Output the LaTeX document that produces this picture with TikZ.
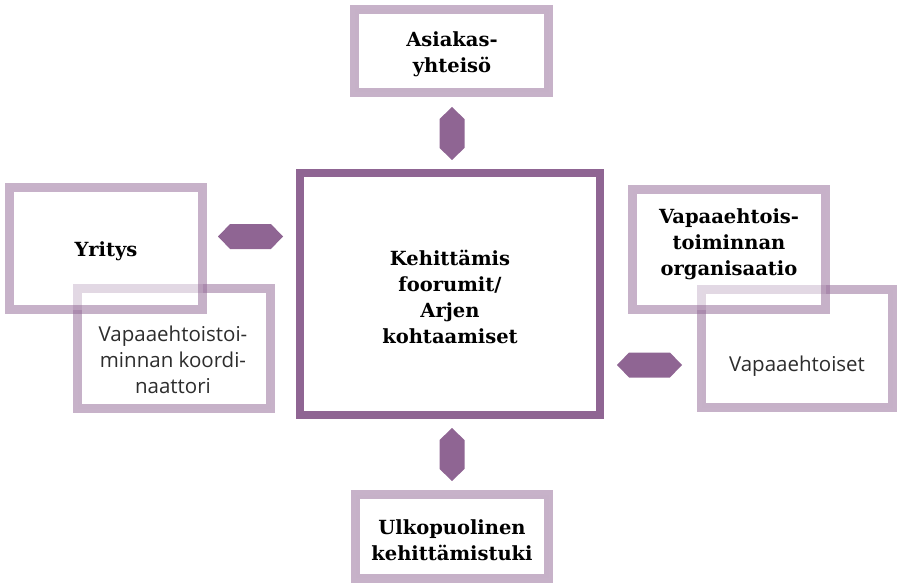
\documentclass[tikz,border=0pt]{standalone}
\usepackage{fontspec}
\setmainfont{DejaVu Serif}
\setsansfont{Open Sans}
\usetikzlibrary{shapes.symbols}
\definecolor{darkp}{RGB}{143,101,147}
\definecolor{txtgray}{RGB}{45,45,45}
\tikzset{
  lightbox/.style={draw=darkp, draw opacity=0.5, line width=9pt, fill=white, inner sep=0pt},
  overbox/.style={lightbox, fill opacity=0.5},
  centerbox/.style={draw=darkp, line width=8pt, fill=white, inner sep=0pt},
  boldtxt/.style={font=\fontsize{19.5}{26}\selectfont\bfseries, align=center, text=black, inner sep=0pt},
  sanstxt/.style={font=\sffamily\fontsize{20.5}{26}\selectfont, align=center, text=txtgray, inner sep=0pt},
  harrow/.style={shape=signal, signal to=east and west, signal pointer angle=92, fill=darkp, inner sep=0pt, minimum width=65pt, minimum height=25pt},
  varrow/.style={shape=signal, signal to=east and west, signal pointer angle=92, fill=darkp, inner sep=0pt, minimum width=53pt, minimum height=25pt, rotate=90}
}
\begin{document}
\begin{tikzpicture}[x=1pt,y=-1pt]
\useasboundingbox (0,0) rectangle (900,583);
% boxes
\node[centerbox, minimum width=300pt, minimum height=242pt] (center) at (450,294) {};
\node[lightbox, minimum width=194pt, minimum height=83pt] (top) at (451.5,51) {};
\node[lightbox, minimum width=193pt, minimum height=83.5pt] (bottom) at (452,536.25) {};
\node[lightbox, minimum width=193pt, minimum height=120pt] (koord) at (174,348.5) {};
\node[overbox, minimum width=193pt, minimum height=122pt] (yritys) at (106,248.5) {};
\node[lightbox, minimum width=191pt, minimum height=118pt] (vapaa) at (797,348.5) {};
\node[overbox, minimum width=193pt, minimum height=120pt] (org) at (729,249.5) {};
% texts
\node[boldtxt] (tcenter) at (450,297) {Kehittämis\\foorumit/\\Arjen\\kohtaamiset};
\node[boldtxt] (ttop) at (452,54) {Asiakas-\\yhteisö};
\node[boldtxt] (tbottom) at (452,540) {Ulkopuolinen\\kehittämistuki};
\node[boldtxt] (tyritys) at (106,251) {Yritys};
\node[boldtxt] (torg) at (729,244) {Vapaaehtois-\\toiminnan\\organisaatio};
\node[sanstxt] (tkoord) at (173,360) {Vapaaehtoistoi-\\minnan koordi-\\naattori};
\node[sanstxt] (tvapaa) at (797,366) {Vapaaehtoiset};
% double arrows
\node[varrow] (atop) at (452,133.5) {};
\node[varrow] (abottom) at (452,454.5) {};
\node[harrow] (aleft) at (250.5,236.5) {};
\node[harrow] (aright) at (649.5,365) {};
\end{tikzpicture}
\end{document}
